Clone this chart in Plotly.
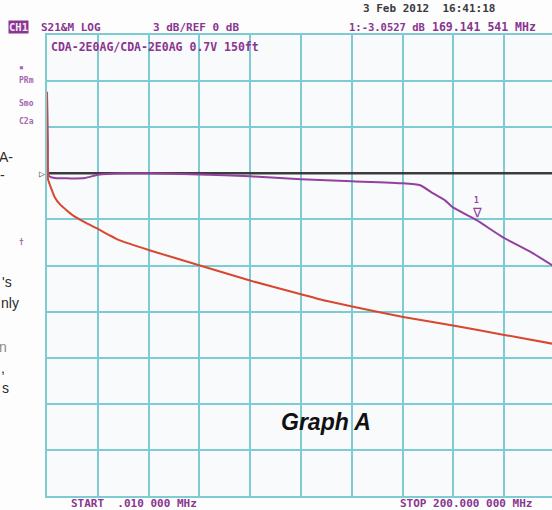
import plotly.graph_objects as go

purple_f = [0.01, 0.3, 0.5, 1.5, 3, 8, 15, 20, 30, 40, 60, 80, 100, 120, 140,
            146.9, 152, 156.7, 159.8, 169.14, 179.5, 190.2, 199]
purple_db = [4.9, 2.0, -0.1, -0.25, -0.3, -0.33, -0.3, -0.1, 0.0, 0.0, -0.07,
             -0.2, -0.39, -0.52, -0.65, -0.78, -1.30, -1.76, -2.22, -3.05,
             -4.17, -5.09, -6.0]

red_f = [0.01, 0.2, 0.4, 1.2, 3.1, 5.1, 10.2, 15, 19.7, 28.7, 40.6, 60.2, 79.9,
         99.6, 109.8, 129.5, 140.2, 159.8, 179.5, 199]
red_db = [5.3, 1.5, -0.4, -0.78, -1.57, -2.02, -2.74, -3.2, -3.59, -4.37, -5.02,
          -6.0, -6.98, -7.85, -8.3, -9.0, -9.35, -9.91, -10.5, -11.09]

ref_f = [0.01, 199]
ref_db = [0, 0]

marker_f = 169.141541
marker_db = -3.0527

PURPLE = "#94409f"
TXT = "#8a3590"
RED = "#d8472f"
GRID = "#7fcbd3"
MONO = "DejaVu Sans Mono"

fig = go.Figure()
fig.add_trace(go.Scatter(x=ref_f, y=ref_db, mode="lines",
                         line=dict(color="#3c3c3c", width=2.5), hoverinfo="skip"))
fig.add_trace(go.Scatter(x=purple_f, y=purple_db, mode="lines",
                         line=dict(color=PURPLE, width=2, shape="spline",
                                   smoothing=0.4), hoverinfo="skip"))
fig.add_trace(go.Scatter(x=red_f, y=red_db, mode="lines",
                         line=dict(color=RED, width=2, shape="spline",
                                   smoothing=0.4), hoverinfo="skip"))

fig.update_layout(
    width=552, height=510,
    margin=dict(l=47, r=0, t=35, b=14, autoexpand=False),
    paper_bgcolor="#fdfdfd", plot_bgcolor="#f8fafb",
    showlegend=False,
    xaxis=dict(range=[0, 198.8], dtick=20, tick0=0, showgrid=True,
               gridcolor=GRID, gridwidth=2, showticklabels=False, ticks="",
               zeroline=False, showline=True, linecolor=GRID, linewidth=2,
               mirror=True, automargin=False),
    yaxis=dict(range=[-21, 9], dtick=3, tick0=0, showgrid=True,
               gridcolor=GRID, gridwidth=2, showticklabels=False, ticks="",
               zeroline=False, showline=True, linecolor=GRID, linewidth=2,
               automargin=False),
)

def ptxt(x, y, text, size=11.5, color=TXT, xanchor="left", family=MONO, **kw):
    fig.add_annotation(xref="paper", yref="paper",
                       x=(x - 47) / 505, y=(496 - y) / 461, text=text,
                       showarrow=False, xanchor=xanchor, yanchor="middle",
                       font=dict(family=family, size=size, color=color),
                       borderpad=0, **kw)

# header
ptxt(8, 27, "<b>CH1</b>", size=10.5, color="#f4e8f4", bgcolor="#8a3590")
ptxt(40, 27, "<b>S21&M LOG</b>", size=11)
ptxt(152, 27, "<b>3 dB/REF 0 dB</b>", size=11)
ptxt(362, 9, "<b>3 Feb 2012  16:41:18</b>", size=11, color="#3a3a3a")
ptxt(348, 27, "<b>1:-3.0527 dB</b>", size=10.5)
ptxt(431, 27, "<b>169.141 541 MHz</b>", size=11.5)
ptxt(50, 47, "<b>CDA-2E0AG/CDA-2E0AG 0.7V 150ft</b>", size=11.5)
ptxt(70, 503, "<b>START  .010 000 MHz</b>", size=11)
ptxt(399, 503, "<b>STOP 200.000 000 MHz</b>", size=11)

# left softkey remnants
for yy, t in [(67, "▪"), (80, "PRm"), (103, "Smo"), (121, "C2a"), (242, "†")]:
    ptxt(18, yy, "<b>" + t + "</b>", size=8, color="#a567b0")

# reference position marker
ptxt(46, 173, "▷", size=10, color="#555555", xanchor="right")

# article text remnants at left edge
for yy, t, c, xr in [(157, "A-", "#2a2a2a", 14), (175, "-", "#2a2a2a", 6),
                     (282, "'s", "#2a2a2a", 13), (303, "nly", "#2a2a2a", 20),
                     (347, "n", "#8a8a8a", 8), (368, ",", "#2a2a2a", 6),
                     (388, "s", "#2a2a2a", 10)]:
    ptxt(xr, yy, t, size=14, color=c, xanchor="right", family="Liberation Sans")

# marker 1
fig.add_annotation(x=marker_f, y=marker_db, text="∇", showarrow=False,
                   yanchor="bottom", yshift=-2,
                   font=dict(family="DejaVu Sans", size=13, color=PURPLE))
fig.add_annotation(x=marker_f, y=marker_db, text="<b>1</b>", showarrow=False,
                   yanchor="bottom", yshift=13,
                   font=dict(family=MONO, size=8, color=PURPLE))

# Graph A label
ptxt(280, 422, "<b><i>Graph A</i></b>", size=23, color="#111111",
     family="Liberation Sans")

fig.write_html("out.html",
               config={"displayModeBar": False, "staticPlot": True},
               post_script="document.body.style.margin='0';"
                           "document.body.style.overflow='hidden';")
